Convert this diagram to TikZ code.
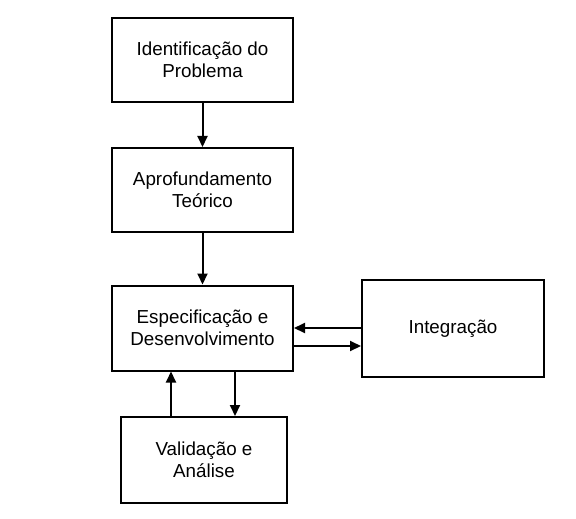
\documentclass[tikz,border=0pt]{standalone}
\usepackage{fontspec}
\setmainfont{Liberation Sans}
\usepackage{tikz}
\usetikzlibrary{arrows.meta,positioning,calc}
\tikzset{
  etapa/.style={draw,line width=1pt,align=center,inner sep=2pt,
    minimum width=90.5pt,minimum height=42pt,
    font=\fontsize{9.4}{11}\selectfont},
  seta/.style={-{Triangle[length=5.5pt,width=5pt]},line width=1pt},
}
\begin{document}
\begin{tikzpicture}[x=0.5pt,y=-0.5pt]
        \useasboundingbox (0,0) rectangle (576,518);
        % etapas da metodologia
        \node[etapa] (ident) at (202.5,60) {Identificação do\\Problema};
        \node[etapa] (aprof) at (202.5,190) {Aprofundamento\\Teórico};
        \node[etapa,minimum height=42.5pt] (espec) at (202.5,328) {Especificação e\\Desenvolvimento};
        \node[etapa,minimum width=91pt,minimum height=48.5pt] (integ) at (453,328.5) {Integração};
        \node[etapa,minimum width=83pt,minimum height=43pt] (valid) at (204,460) {Validação e\\Análise};
        % fluxo principal
        \draw[seta] (ident) -- (aprof);
        \draw[seta] (aprof) -- (espec);
        % ida e volta com a integracao
        \draw[seta] (integ.west |- espec.east) -- (espec.east);
        \draw[seta] ([yshift=-9pt]espec.east) -- ([yshift=-9pt]espec.east -| integ.west);
        % ida e volta com a validacao
        \draw[seta] ([xshift=-16.5pt]valid.north) -- ([xshift=-16.5pt]valid.north |- espec.south);
        \draw[seta] ([xshift=15.5pt]valid.north |- espec.south) -- ([xshift=15.5pt]valid.north);
      \end{tikzpicture}
\end{document}
